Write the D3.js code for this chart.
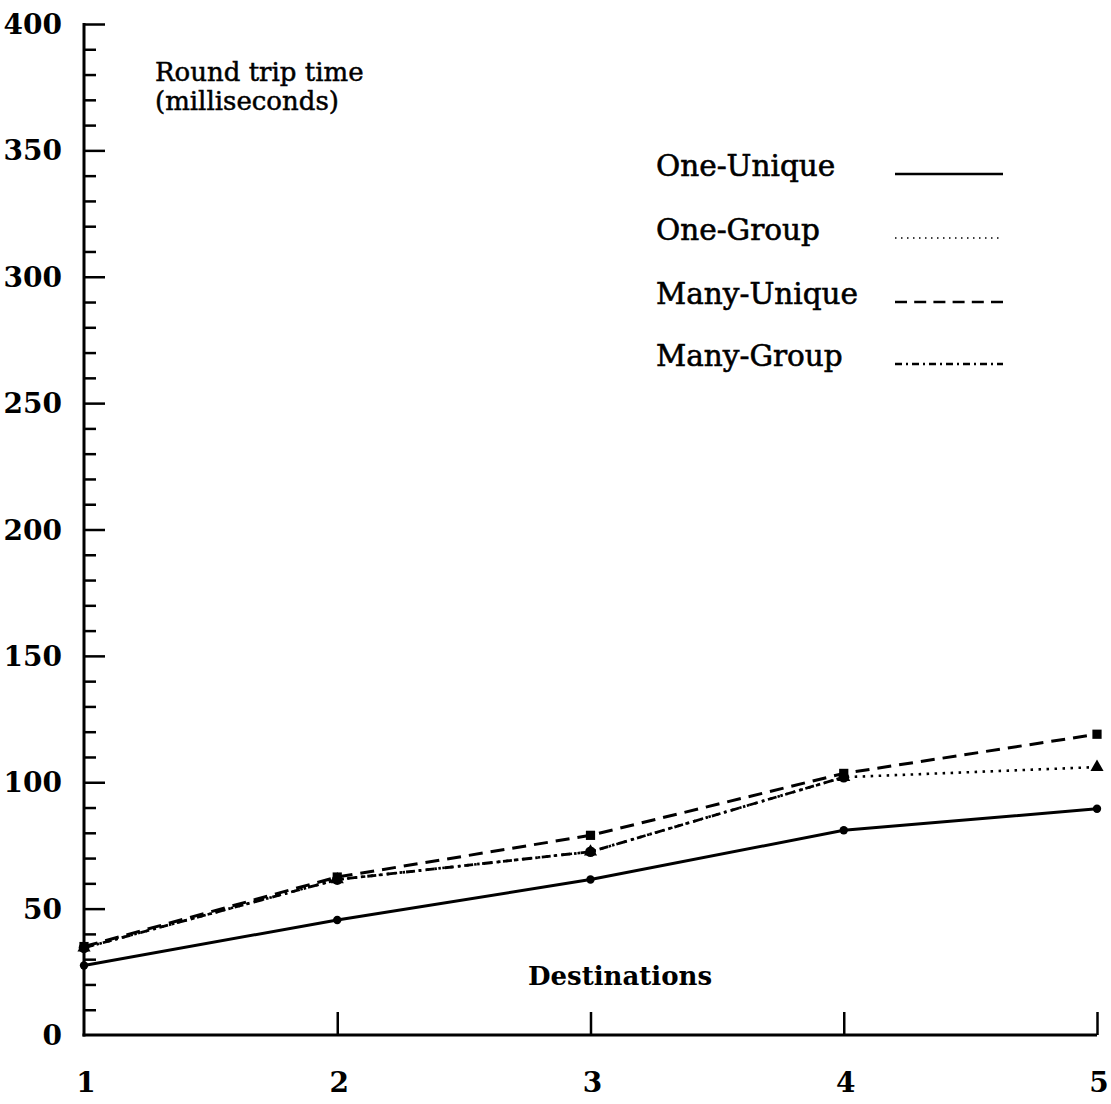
<!DOCTYPE html>
<html>
<head>
<meta charset="utf-8">
<script src="https://cdn.jsdelivr.net/npm/d3@7"></script>
<style>
  body { margin: 0; background: #fff; }
  text { font-family: "DejaVu Serif", serif; fill: #000; }
</style>
</head>
<body>
<div id="container"></div>
<script>
// values
const destinations = [1, 2, 3, 4, 5];
const oneUnique  = [27.5, 45.5, 61.5, 81, 89.5];
const oneGroup   = [34.5, 61.5, 72.5, 102, 106];
const manyUnique = [35, 62.5, 79, 103.5, 119];
const manyGroup  = [34.5, 61.5, 72.5, 102];
const yTicks = [0, 50, 100, 150, 200, 250, 300, 350, 400];
const seriesNames = ["One-Unique", "One-Group", "Many-Unique", "Many-Group"];

const width = 1111, height = 1104;

const svg = d3.select("#container").append("svg")
    .attr("width", width)
    .attr("height", height);

const x = d3.scaleLinear().domain([1, 5]).range([84, 1097]);
const y = d3.scaleLinear().domain([0, 400]).range([1035, 24]);

// y axis, ticks pointing into the plot
const yAxis = d3.axisRight(y).tickValues(d3.range(0, 401, 10).filter(v => v > 0))
    .tickSize(0).tickFormat("");
const gy = svg.append("g").attr("transform", "translate(84,0)").call(yAxis);
gy.select(".domain").remove();
gy.selectAll(".tick line")
    .attr("x2", d => d % 50 === 0 ? 21 : 12)
    .attr("stroke", "#000").attr("stroke-width", 2.5);

svg.append("line")
    .attr("x1", 84).attr("x2", 84).attr("y1", y(400) - 1).attr("y2", y(0) + 1.5)
    .attr("stroke", "#000").attr("stroke-width", 3);
svg.append("line")
    .attr("x1", 82.5).attr("x2", x(5)).attr("y1", y(0)).attr("y2", y(0))
    .attr("stroke", "#000").attr("stroke-width", 3);

svg.selectAll(".ylab").data(yTicks).enter().append("text")
    .attr("class", "ylab")
    .attr("x", 62).attr("y", d => y(d) + 10)
    .attr("text-anchor", "end")
    .attr("font-size", 28).attr("font-weight", "bold")
    .text(d => d);

// x axis, ticks pointing up
const gx = svg.append("g").attr("transform", `translate(0,${y(0)})`)
    .call(d3.axisTop(x).tickValues(destinations.slice(1)).tickSize(0).tickFormat(""));
gx.select(".domain").remove();
gx.selectAll(".tick line").attr("y2", -23).attr("stroke", "#000").attr("stroke-width", 2.5);

svg.selectAll(".xlab").data(destinations).enter().append("text")
    .attr("class", "xlab")
    .attr("x", d => x(d) + 2).attr("y", 1092)
    .attr("text-anchor", "middle")
    .attr("font-size", 28).attr("font-weight", "bold")
    .text(d => d);

svg.append("text").attr("x", 620).attr("y", 985).attr("text-anchor", "middle")
    .attr("font-size", 26).attr("font-weight", "bold").text("Destinations");
svg.append("text").attr("x", 155).attr("y", 81)
    .attr("font-size", 26).attr("stroke", "#000").attr("stroke-width", 0.5)
    .text("Round trip time");
svg.append("text").attr("x", 155).attr("y", 110)
    .attr("font-size", 26).attr("stroke", "#000").attr("stroke-width", 0.5)
    .text("(milliseconds)");

// series
const dashes = ["none", "2.5,5.5", "14,8", "9,4,2.5,4"];
const widths = [3, 2.6, 3, 2.8];
const allSeries = [oneUnique, oneGroup, manyUnique, manyGroup];

const line = d3.line().x((d, i) => x(destinations[i])).y(d => y(d));

allSeries.forEach((vals, k) => {
  svg.append("path")
      .attr("d", line(vals))
      .attr("fill", "none").attr("stroke", "#000")
      .attr("stroke-width", widths[k])
      .attr("stroke-dasharray", dashes[k] === "none" ? null : dashes[k]);
});

// markers
const symbols = [d3.symbolCircle, d3.symbolTriangle, d3.symbolSquare, d3.symbolCircle];
const sizes = [55, 75, 85, 90];
allSeries.forEach((vals, k) => {
  svg.selectAll(".m" + k).data(vals).enter().append("path")
      .attr("class", "m" + k)
      .attr("transform", (d, i) => `translate(${x(destinations[i])},${y(d)})`)
      .attr("d", d3.symbol().type(symbols[k]).size(sizes[k]))
      .attr("fill", "#000");
});

// legend
const legendY = [174, 238, 302, 364];
const legendDash = [null, "1.5,4.5", "12,7.2", "7,4,2,4"];
seriesNames.forEach((name, k) => {
  svg.append("text").attr("x", 656).attr("y", legendY[k] + 2)
      .attr("font-size", 29.5).attr("stroke", "#000").attr("stroke-width", 0.6)
      .text(name);
  svg.append("line")
      .attr("x1", 895).attr("x2", 1003).attr("y1", legendY[k]).attr("y2", legendY[k])
      .attr("stroke", "#000").attr("stroke-width", k === 1 ? 1.6 : 2.4)
      .attr("stroke-dasharray", legendDash[k]);
});
</script>
</body>
</html>
